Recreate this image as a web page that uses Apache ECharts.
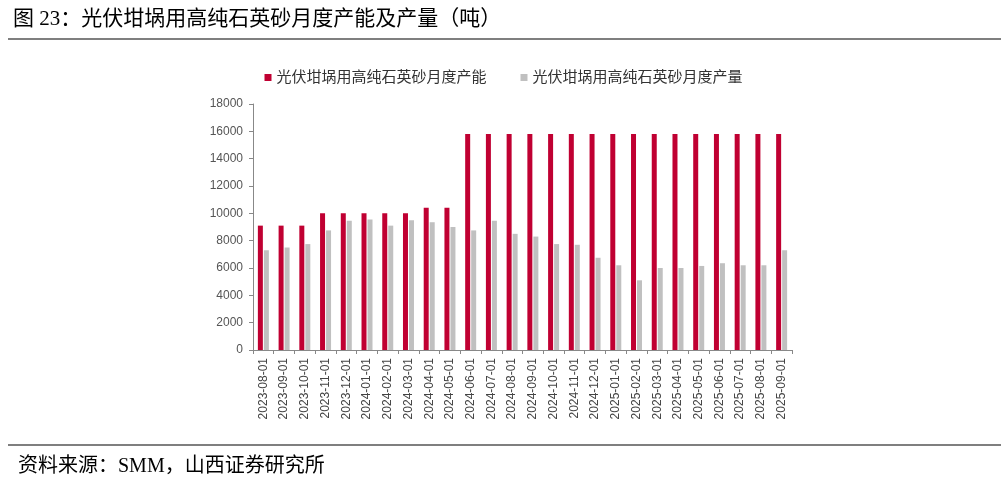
<!DOCTYPE html>
<html>
<head>
<meta charset="utf-8">
<script src="https://cdn.jsdelivr.net/npm/echarts@6/dist/echarts.min.js"></script>
<style>
  html, body { margin: 0; padding: 0; background: #fff; }
  #main { width: 1007px; height: 486px; }
</style>
</head>
<body>
<div id="main"></div>
<script>
let months = ['2023-08-01', '2023-09-01', '2023-10-01', '2023-11-01', '2023-12-01',
    '2024-01-01', '2024-02-01', '2024-03-01', '2024-04-01', '2024-05-01',
    '2024-06-01', '2024-07-01', '2024-08-01', '2024-09-01', '2024-10-01',
    '2024-11-01', '2024-12-01', '2025-01-01', '2025-02-01', '2025-03-01',
    '2025-04-01', '2025-05-01', '2025-06-01', '2025-07-01', '2025-08-01',
    '2025-09-01'];
let capacity = [9100, 9100, 9100, 10000, 10000, 10000, 10000, 10000, 10400, 10400,
    15800, 15800, 15800, 15800, 15800, 15800, 15800, 15800, 15800, 15800,
    15800, 15800, 15800, 15800, 15800, 15800];
let output = [7300, 7500, 7750, 8750, 9450, 9550, 9100, 9500, 9350, 9000,
    8750, 9450, 8500, 8300, 7750, 7700, 6750, 6200, 5100, 6000,
    6000, 6150, 6350, 6200, 6200, 7300];
let yTicks = { min: 0, max: 18000, interval: 2000 };

let nameCap = '光伏坩埚用高纯石英砂月度产能';
let nameOut = '光伏坩埚用高纯石英砂月度产量';

let cjk = '"Liberation Serif", "Noto Sans CJK SC", serif';
let sans = '"Liberation Sans", "Noto Sans CJK SC", sans-serif';

let myChart = echarts.init(document.getElementById('main'));

let option = {
    backgroundColor: '#fff',
    animation: false,
    title: {
        text: '图 23：光伏坩埚用高纯石英砂月度产能及产量（吨）',
        left: 8,
        top: 4,
        textStyle: { fontFamily: cjk, fontSize: 21, fontWeight: 'normal', color: '#000' }
    },
    graphic: [
        { type: 'line', shape: { x1: 8, y1: 39, x2: 1001, y2: 39 }, style: { stroke: '#555', lineWidth: 1.5 } },
        { type: 'line', shape: { x1: 8, y1: 445, x2: 1001, y2: 445 }, style: { stroke: '#555', lineWidth: 1.5 } },
        {
            type: 'text', left: 18, top: 457,
            style: { text: '资料来源：SMM，山西证券研究所', font: '20px ' + cjk, fill: '#000' }
        }
    ],
    legend: {
        data: [nameCap, nameOut],
        top: 65,
        left: 'center',
        itemWidth: 7,
        itemHeight: 7,
        itemGap: 34,
        icon: 'rect',
        textStyle: { fontFamily: sans, fontSize: 15, color: '#333' }
    },
    grid: { left: 253, right: 215, top: 104, bottom: 136 },
    xAxis: {
        type: 'category',
        data: months,
        axisLine: { lineStyle: { color: '#888' } },
        axisTick: { show: true, length: 4, lineStyle: { color: '#888' } },
        axisLabel: { rotate: 90, interval: 0, fontFamily: sans, fontSize: 12, color: '#444', margin: 8 }
    },
    yAxis: {
        type: 'value',
        min: yTicks.min,
        max: yTicks.max,
        interval: yTicks.interval,
        axisLine: { show: true, lineStyle: { color: '#888' } },
        axisTick: { show: true, length: 4, lineStyle: { color: '#888' } },
        splitLine: { show: false },
        axisLabel: {
            fontFamily: sans, fontSize: 12, color: '#555', margin: 10,
            formatter: function (v) { return String(v); }
        }
    },
    series: [
        {
            name: nameCap,
            type: 'bar',
            data: capacity,
            barWidth: 5,
            barGap: '20%',
            itemStyle: { color: '#c00032' }
        },
        {
            name: nameOut,
            type: 'bar',
            data: output,
            barWidth: 5,
            itemStyle: { color: '#c0c0c0' }
        }
    ]
};

myChart.setOption(option);
</script>
</body>
</html>
